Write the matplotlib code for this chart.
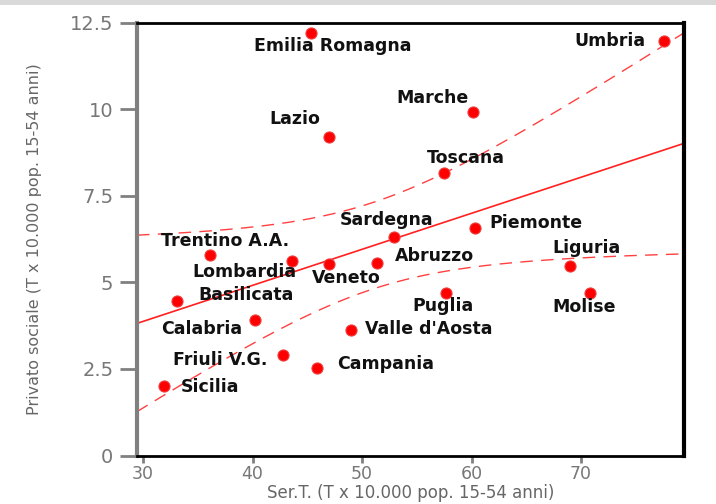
import numpy as np
import matplotlib
matplotlib.use("Agg")
import matplotlib.pyplot as plt
from matplotlib.patches import Rectangle

# ---- data ----
regions = ["Emilia Romagna", "Umbria", "Marche", "Lazio", "Toscana", "Sardegna",
           "Piemonte", "Trentino A.A.", "Lombardia", "Veneto", "Abruzzo", "Liguria",
           "Basilicata", "Puglia", "Molise", "Calabria", "Valle d'Aosta",
           "Friuli V.G.", "Campania", "Sicilia"]
sert = [45.3, 77.6, 60.1, 47.0, 57.5, 52.9, 60.3, 36.1, 43.6, 47.0, 51.4, 69.0,
        33.1, 57.7, 70.8, 40.2, 49.0, 42.8, 45.9, 31.9]
privato = [12.20, 11.97, 9.91, 9.19, 8.17, 6.32, 6.56, 5.78, 5.63, 5.52, 5.56, 5.47,
           4.45, 4.70, 4.70, 3.90, 3.62, 2.90, 2.52, 2.02]
xticks = [30, 40, 50, 60, 70]
yticks = [0, 2.5, 5, 7.5, 10, 12.5]
yticklabels = ["0", "2.5", "5", "7.5", "10", "12.5"]
xlabel = "Ser.T. (T x 10.000 pop. 15-54 anni)"
ylabel = "Privato sociale (T x 10.000 pop. 15-54 anni)"

# label placement (ha, dx px, dy px)
label_pos = [("center", 22, -13), ("right", -19, 0), ("right", -4, 14), ("right", -9, 18),
             ("left", -17, 15), ("center", -7, 17), ("left", 15, 5), ("center", 15, 14),
             ("right", 5, -11), ("left", -17, -14), ("left", 18, 7), ("left", -18, 18),
             ("left", 21, 6), ("left", -34, -13), ("left", -37, -14), ("right", -12, -9),
             ("left", 14, 1), ("right", -16, -5), ("left", 20, 4), ("left", 17, -1)]

x = np.array(sert)
y = np.array(privato)

W, H = 716, 504
fig = plt.figure(figsize=(W / 100, H / 100), dpi=100)
fig.patch.set_facecolor("white")
fig.patches.append(Rectangle((0, 1 - 5 / H), 1, 5 / H, transform=fig.transFigure,
                             facecolor="#d9d9d9", edgecolor="none"))
ax_top, ax_bot = 22.7, 455.5
ax = fig.add_axes([137 / W, 1 - ax_bot / H, (684 - 137) / W, (ax_bot - ax_top) / H])

xlim = (29.45, 79.4)
ax.set_xlim(*xlim)
ax.set_ylim(0, 12.5)

# linear fit with 95% CI of the fitted mean
n = len(x)
b, a = np.polyfit(x, y, 1)
xs = np.linspace(xlim[0], xlim[1], 200)
fit = a + b * xs
resid = y - (a + b * x)
s = np.sqrt(np.sum(resid ** 2) / (n - 2))
sxx = np.sum((x - x.mean()) ** 2)
tq = 2.100922  # t(0.975, 18)
se = s * np.sqrt(1 / n + (xs - x.mean()) ** 2 / sxx)
ax.plot(xs, fit + tq * se, color="#ff4040", lw=1.0, dashes=(9, 6), zorder=2)
ax.plot(xs, fit - tq * se, color="#ff4040", lw=1.0, dashes=(9, 6), zorder=2)
ax.plot(xs, fit, color="#ff2020", lw=1.2, zorder=2)

ax.plot(x, y, "o", color="#ff0000", markersize=8, markeredgecolor="#f04040",
        markeredgewidth=0.8, zorder=3)

for name, xi, yi, (ha, dx, dy) in zip(regions, x, y, label_pos):
    ax.annotate(name, (xi, yi), xytext=(dx, dy), textcoords="offset pixels",
                ha=ha, va="center", fontsize=12.5, fontweight="bold",
                color="#111111", zorder=4)

ax.set_xticks(xticks)
ax.set_xticklabels([str(t) for t in xticks])
ax.set_yticks(yticks)
ax.set_yticklabels(yticklabels)
ax.tick_params(axis="x", colors="#808080", labelcolor="#777777", length=5, width=2,
               labelsize=12.5, pad=2)
ax.tick_params(axis="y", colors="#808080", labelcolor="#777777", length=12, width=2,
               labelsize=14, pad=5)

for side in ["top", "right", "bottom"]:
    ax.spines[side].set_color("black")
ax.spines["top"].set_linewidth(2)
ax.spines["right"].set_linewidth(3)
ax.spines["bottom"].set_linewidth(2)
ax.spines["left"].set_color("#808080")
ax.spines["left"].set_linewidth(3)

ax.set_xlabel(xlabel, fontsize=12, color="#666666", va="bottom")
ax_h_px = ax_bot - ax_top
ax.xaxis.set_label_coords(0.5, (1.5 - (H - ax_bot)) / ax_h_px)
ax.set_ylabel(ylabel, fontsize=11.5, color="#666666", labelpad=20)

fig.savefig("out.png", dpi=100)
